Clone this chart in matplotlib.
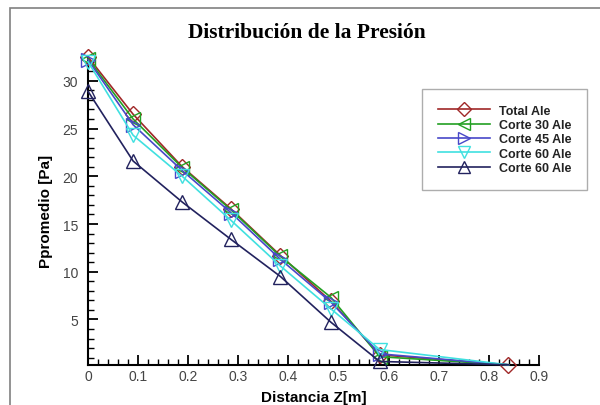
import numpy as np
import matplotlib.pyplot as plt
from matplotlib.patches import Rectangle

plt.rcParams['font.family'] = ['Liberation Sans', 'DejaVu Sans']

# datos
dist_z = [0.0, 0.09, 0.188, 0.285, 0.384, 0.485, 0.582, 0.839]
total_ale = [32.5, 26.5, 21.0, 16.6, 11.7, 6.9, 1.3, 0.25]
corte30 = [32.3, 26.0, 20.9, 16.5, 11.6, 7.3, 1.1, 0.25]
corte45 = [32.2, 25.4, 20.6, 16.2, 11.3, 6.8, 1.4, 0.25]
corte60 = [32.0, 24.3, 20.0, 15.4, 10.6, 6.1, 1.85, 0.25]
corte60b = [28.9, 21.6, 17.3, 13.4, 9.5, 4.7, 0.6, 0.25]

labels = ['Total Ale', 'Corte 30 Ale', 'Corte 45 Ale', 'Corte 60 Ale', 'Corte 60 Ale']
series = [total_ale, corte30, corte45, corte60, corte60b]
colores = ['#a02828', '#22a022', '#4848c8', '#40e0e0', '#22225e']
marcas = ['D', '<', '>', 'v', '^']

fig = plt.figure(figsize=(6, 4.06), dpi=100)
# marco de la figura
fig.patches.append(Rectangle((10 / 600, -0.1), 1.2, 1 - 9 / 406 + 0.1, transform=fig.transFigure,
                             fill=False, edgecolor='#808080', linewidth=1.2))
ax = fig.add_axes([88 / 600, 1 - 366 / 406, 451 / 600, 309 / 406])

for i in range(5):
    me = None if i == 0 else list(range(7))
    ms = 8 if marcas[i] == 'D' else 10
    ax.plot(dist_z, series[i], color=colores[i], lw=1.2, marker=marcas[i], markersize=ms,
            markerfacecolor='none', markeredgecolor=colores[i], markeredgewidth=1.0,
            markevery=me, label=labels[i], clip_on=False, zorder=3 + i)

ax.set_xlim(0, 0.9)
ax.set_ylim(0.23, 32.6)
ax.set_xticks(np.arange(0, 0.91, 0.1))
ax.set_xticklabels(['0', '0.1', '0.2', '0.3', '0.4', '0.5', '0.6', '0.7', '0.8', '0.9'])
ax.set_xticks(np.arange(0, 0.9, 0.02), minor=True)
ax.set_yticks([5, 10, 15, 20, 25, 30])
ax.set_yticks(np.arange(1, 33, 1), minor=True)
ax.spines['top'].set_visible(False)
ax.spines['right'].set_visible(False)
ax.spines['left'].set_linewidth(1.5)
ax.spines['bottom'].set_linewidth(1.5)
ax.tick_params(which='major', direction='in', length=7, width=1.3, labelsize=10,
               labelcolor='#444444')
ax.tick_params(axis='y', which='major', pad=7)
ax.tick_params(axis='x', which='major', pad=3)
ax.tick_params(which='minor', direction='in', length=4, width=1)

ax.set_xlabel('Distancia Z[m]', fontsize=11, fontweight='bold', labelpad=5)
ax.set_ylabel('Ppromedio [Pa]', fontsize=11, fontweight='bold', labelpad=7)

fig.text(307 / 600, 1 - 33 / 406, 'Distribución de la Presión', ha='center', va='center',
         fontsize=15.5, fontweight='bold', family=['Liberation Serif', 'DejaVu Serif'])

leg = ax.legend(loc='upper left', bbox_to_anchor=((422 - 88) / 451, (366 - 90) / 309),
                fontsize=9, frameon=True, fancybox=False, edgecolor='#999999',
                handlelength=4.2, labelspacing=0.19, borderpad=1.25, handletextpad=0.7,
                borderaxespad=0, markerscale=0.9)
leg.get_frame().set_linewidth(1.0)
for t in leg.get_texts():
    t.set_fontweight('bold')
    t.set_color('#222222')

fig.savefig('out.png', dpi=100)
